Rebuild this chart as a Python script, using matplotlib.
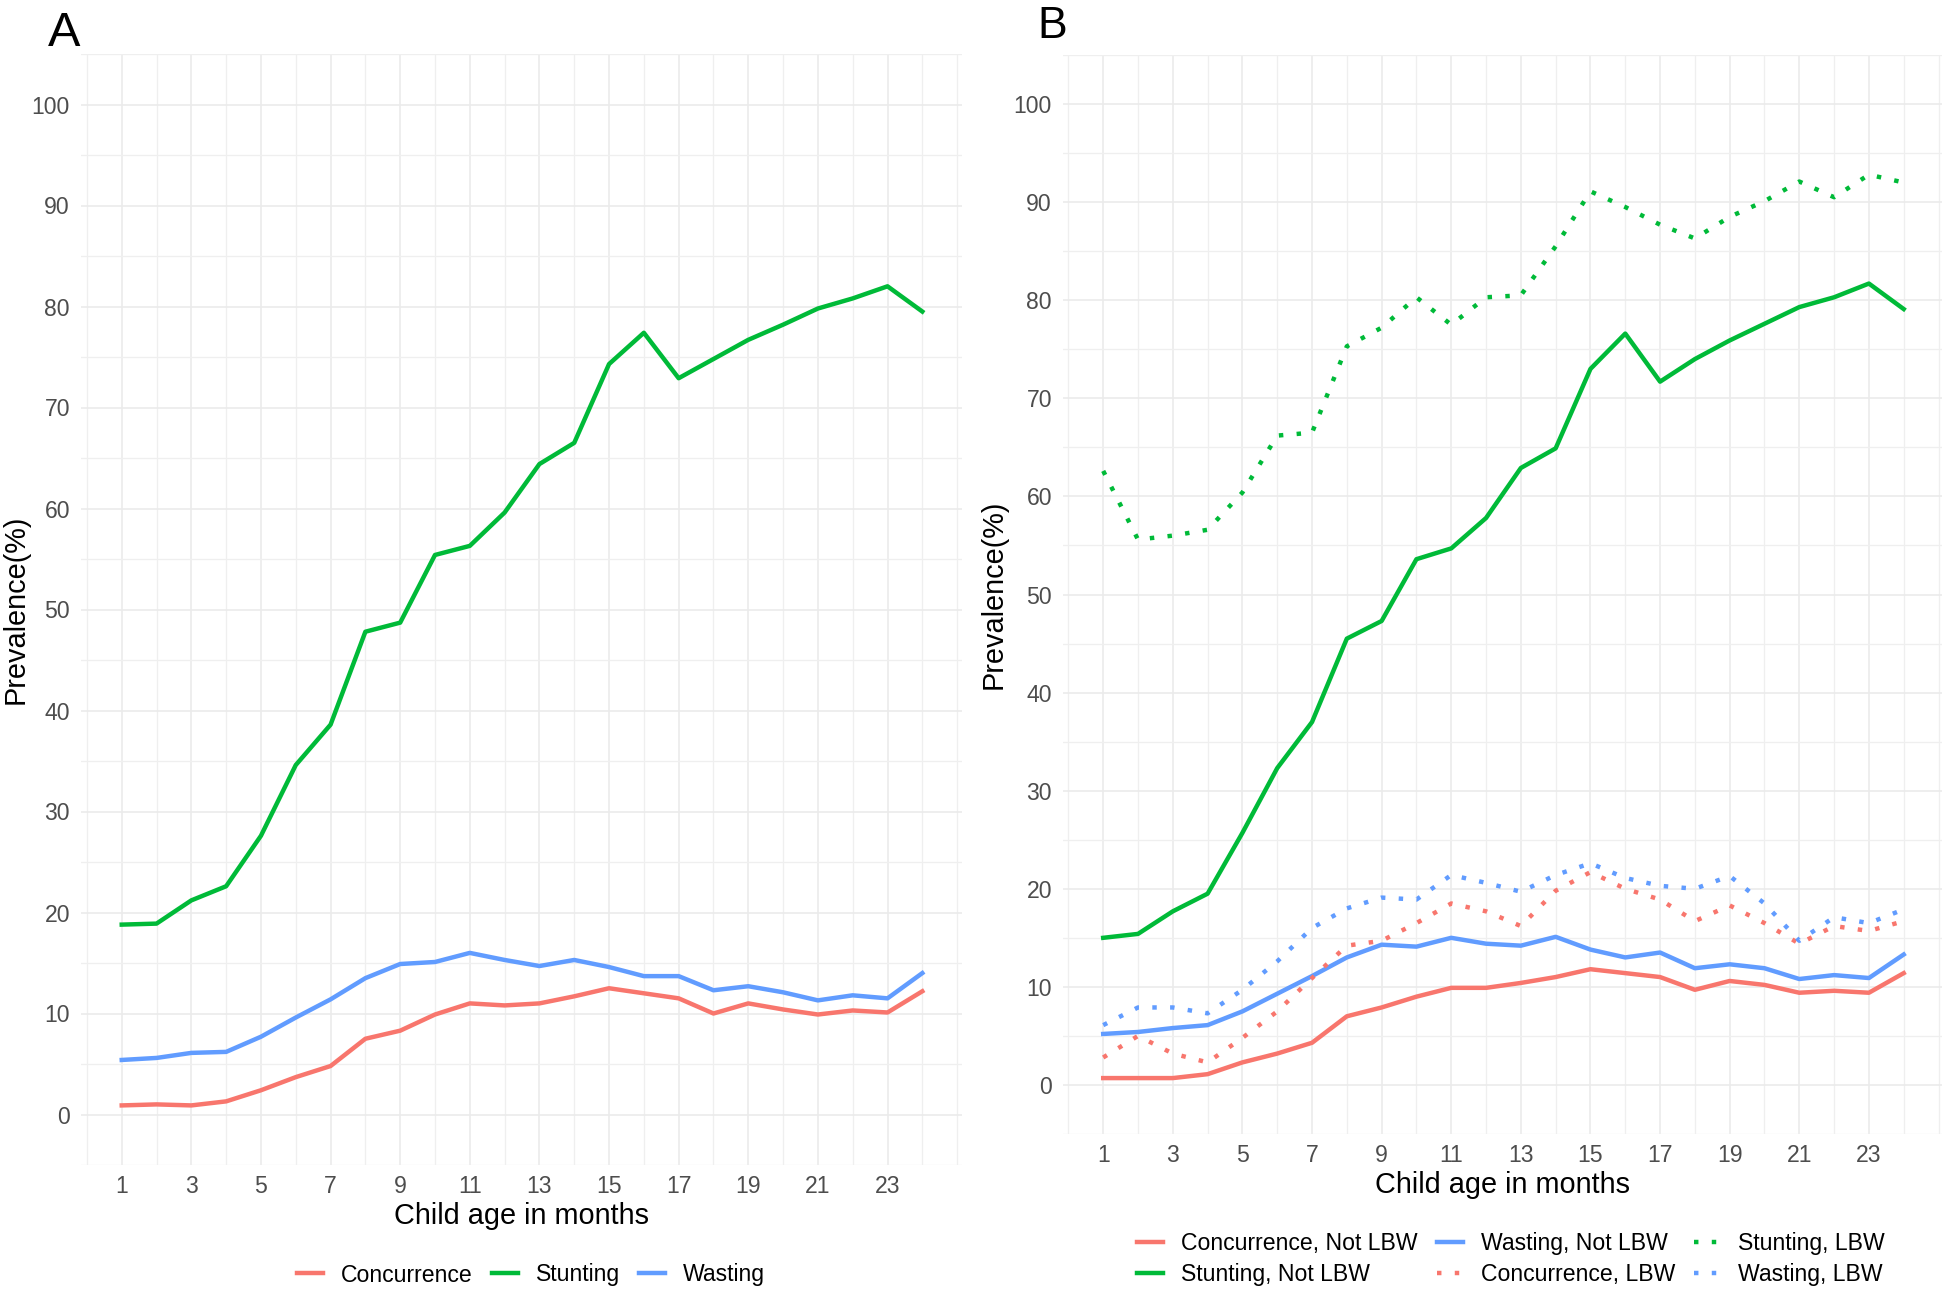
import numpy as np
import matplotlib
matplotlib.use("Agg")
import matplotlib.pyplot as plt
from matplotlib.lines import Line2D

plt.rcParams['font.family'] = ['Liberation Sans', 'DejaVu Sans']

months = list(range(1, 25))

# panel A
conc_a = [0.9, 1.0, 0.9, 1.3, 2.4, 3.7, 4.8, 7.5, 8.3, 9.9, 11.0, 10.8,
          11.0, 11.7, 12.5, 12.0, 11.5, 10.0, 11.0, 10.4, 9.9, 10.3, 10.1, 12.2]
stunt_a = [18.8, 18.9, 21.2, 22.6, 27.6, 34.6, 38.6, 47.8, 48.7, 55.4, 56.3, 59.6,
           64.4, 66.5, 74.3, 77.4, 72.9, 74.8, 76.7, 78.2, 79.8, 80.8, 82.0, 79.5]
wast_a = [5.4, 5.6, 6.1, 6.2, 7.7, 9.6, 11.4, 13.5, 14.9, 15.1, 16.0, 15.3,
          14.7, 15.3, 14.6, 13.7, 13.7, 12.3, 12.7, 12.1, 11.3, 11.8, 11.5, 14.0]

# panel B
conc_nlbw = [0.7, 0.7, 0.7, 1.1, 2.3, 3.2, 4.3, 7.0, 7.9, 9.0, 9.9, 9.9,
             10.4, 11.0, 11.8, 11.4, 11.0, 9.7, 10.6, 10.2, 9.4, 9.6, 9.4, 11.4]
stunt_nlbw = [15.0, 15.4, 17.7, 19.5, 25.7, 32.3, 37.0, 45.5, 47.3, 53.6, 54.7, 57.8,
              62.9, 64.9, 73.0, 76.6, 71.7, 74.0, 75.9, 77.6, 79.3, 80.3, 81.7, 79.1]
wast_nlbw = [5.2, 5.4, 5.8, 6.1, 7.5, 9.3, 11.1, 13.0, 14.3, 14.1, 15.0, 14.4,
             14.2, 15.1, 13.8, 13.0, 13.5, 11.9, 12.3, 11.9, 10.8, 11.2, 10.9, 13.3]
conc_lbw = [2.8, 5.0, 3.2, 2.3, 4.8, 7.5, 10.9, 14.2, 14.7, 16.5, 18.5, 17.7,
            16.2, 19.8, 21.7, 20.0, 18.9, 16.7, 18.3, 16.5, 14.4, 16.2, 15.7, 16.7]
stunt_lbw = [62.6, 55.6, 56.0, 56.6, 60.4, 66.2, 66.5, 75.3, 77.2, 80.3, 77.5, 80.3,
             80.5, 85.5, 91.1, 89.5, 87.7, 86.3, 88.5, 90.1, 92.1, 90.5, 92.8, 92.0]
wast_lbw = [6.1, 7.9, 7.9, 7.3, 9.7, 12.6, 16.0, 18.0, 19.1, 18.9, 21.4, 20.6,
            19.7, 21.4, 22.6, 21.1, 20.3, 20.0, 21.3, 18.5, 14.7, 17.1, 16.5, 17.9]

RED, GREEN, BLUE = "#F8766D", "#00BA38", "#619CFF"
W, H = 1946, 1290
LW = 3.2
TICK_FS = 16.6
TITLE_FS = 20.8


def setup(ax, xlim, ylab_x, xlab_y):
    ax.set_xlim(*xlim)
    ax.set_ylim(-5, 105)
    ax.set_xticks(range(1, 24, 2))
    ax.set_xticks(list(range(0, 25, 2)) + [25], minor=True)
    ax.set_yticks(range(0, 101, 10))
    ax.set_yticks(range(-5, 106, 10), minor=True)
    ax.grid(which='major', color='#EBEBEB', lw=1.2)
    ax.grid(which='minor', color='#EFEFEF', lw=0.9)
    ax.set_axisbelow(True)
    for s in ax.spines.values():
        s.set_visible(False)
    ax.tick_params(which='both', length=0, labelsize=TICK_FS, labelcolor='#4D4D4D')
    ax.tick_params(axis='y', pad=8)
    ax.tick_params(axis='x', pad=7)
    ax.set_xlabel('Child age in months', fontsize=TITLE_FS, va='center')
    ax.set_ylabel('Prevalence(%)', fontsize=TITLE_FS, va='center')
    ax.xaxis.set_label_coords(0.5, xlab_y)
    ax.yaxis.set_label_coords(ylab_x, 0.5)


fig = plt.figure(figsize=(W / 100, H / 100), dpi=100)

# ---- A
axA = fig.add_axes([81 / W, (H - 1165) / H, 881 / W, 1111 / H])
setup(axA, (-0.17, 25.14), (16 - 81) / 881, (1165 - 1216) / 1111)
axA.plot(months, conc_a, color=RED, lw=LW)
axA.plot(months, stunt_a, color=GREEN, lw=LW)
axA.plot(months, wast_a, color=BLUE, lw=LW)
hA = [Line2D([], [], color=c, lw=LW) for c in (RED, GREEN, BLUE)]
fig.legend(hA, ['Concurrence', 'Stunting', 'Wasting'], loc='center',
           bbox_to_anchor=(531 / W, 1 - 1275 / H), ncol=3, frameon=False,
           fontsize=TICK_FS, handlelength=1.13, handletextpad=0.78,
           columnspacing=0.83)
fig.text(48 / W, 1 - 46 / H, 'A', fontsize=35, ha='left', va='baseline')

# ---- B
axB = fig.add_axes([1063 / W, (H - 1134) / H, 879 / W, 1079 / H])
setup(axB, (-0.155, 25.1), (994 - 1063) / 879, (1134 - 1185) / 1079)
series_b = [(conc_nlbw, RED, '-'), (stunt_nlbw, GREEN, '-'), (wast_nlbw, BLUE, '-'),
            (conc_lbw, RED, ':'), (stunt_lbw, GREEN, ':'), (wast_lbw, BLUE, ':')]
labels_b = ['Concurrence, Not LBW', 'Stunting, Not LBW', 'Wasting, Not LBW',
            'Concurrence, LBW', 'Stunting, LBW', 'Wasting, LBW']
hB = []
for vals, col, ls in series_b:
    if ls == ':':
        axB.plot(months, vals, color=col, lw=LW, dashes=(1, 3), dash_capstyle='butt')
        h = Line2D([], [], color=col, lw=LW, dashes=(1, 3), dash_capstyle='butt')
    else:
        axB.plot(months, vals, color=col, lw=LW)
        h = Line2D([], [], color=col, lw=LW)
    hB.append(h)
fig.legend(hB, labels_b, loc='center', bbox_to_anchor=(1511 / W, 1 - 1259 / H),
           ncol=3, frameon=False, fontsize=TICK_FS, handlelength=1.13,
           handletextpad=0.78, columnspacing=0.83, labelspacing=0.35)
fig.text(1037 / W, 1 - 38 / H, 'B', fontsize=32, ha='left', va='baseline')

fig.savefig('out.png', dpi=100, facecolor='white')
